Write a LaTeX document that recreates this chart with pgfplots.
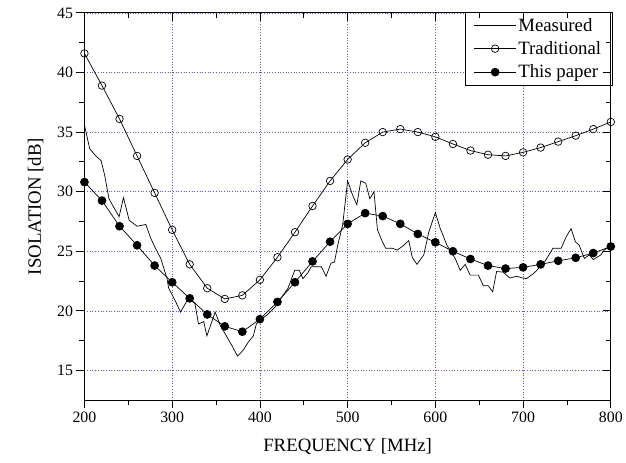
\documentclass[border=0pt]{standalone}
\usepackage{fontspec}
\setmainfont{Liberation Serif}
\usepackage{pgfplots}
\pgfplotsset{compat=1.18}
\definecolor{gridblue}{RGB}{95,95,195}

\begin{document}
\begin{tikzpicture}
\pgfplotsset{
  common/.style={
    width=530bp, height=390bp, scale only axis,
    xmin=200, xmax=800, ymin=12.5, ymax=45,
    xtick={200,300,...,800}, ytick={15,20,...,45},
    minor x tick num=1, minor y tick num=1,
    major tick length=8bp, minor tick length=5bp,
    axis line style={line width=0.9bp},
    every tick/.style={black, line width=0.8bp},
  }
}
\begin{axis}[
    common,
    xtick pos=left, ytick pos=left, tick align=outside,
    grid=major,
    grid style={gridblue, line width=0.7bp, dash pattern=on 0.7bp off 2bp},
    /pgf/number format/assume math mode=true,
    ticklabel style={font=\fontsize{16}{18}\selectfont},
    xlabel={FREQUENCY [MHz]},
    ylabel={ISOLATION [dB]},
    label style={font=\fontsize{19}{22}\selectfont},
    xlabel style={yshift=-9bp},
    ylabel style={yshift=7bp},
    legend style={at={(rel axis cs:1.003,1.003)}, anchor=north east,
      draw=black, line width=0.6bp, font=\fontsize{19}{22}\selectfont,
      inner xsep=9bp, inner ysep=4bp, row sep=5bp},
    legend cell align=left,
    legend image code/.code={\draw[mark repeat=2,mark phase=2,#1]
      plot coordinates {(0bp,0bp) (21bp,0bp) (42bp,0bp)};},
    clip=false,
  ]
  % measured
  \addplot[black, line width=0.7bp] coordinates {
    (200,35.6) (206,33.6) (213,33.0) (219,32.6) (223,31.4) (228,29.4)
    (239.5,27.9) (244.5,29.5) (251,27.6) (260,27.1) (270,27.25) (275.5,26.1)
    (281,25.25) (287,24.4) (294,22.75) (296,21.9) (303.8,20.8) (309.5,19.9)
    (319,21.1) (326,20.6) (330,18.9) (336,19.1) (339.6,17.9) (349,19.9)
    (354.7,18.8) (368,17.1) (374.5,16.2) (381,16.7) (387,17.4) (392.5,17.9)
    (396,18.9) (400,19.2) (409,19.7) (417,20.3) (424.5,21.1) (432,21.9)
    (439.7,23.4) (445,23.4) (449,22.7) (454.7,23.2) (458.5,23.7) (470,23.7)
    (475.4,22.9) (481,24.0) (485,24.1) (488.7,25.5) (494.3,27.2) (500,30.9)
    (505.7,29.7) (510.5,28.9) (515,30.9) (520.7,30.7) (525.3,29.4) (530,30.0)
    (534,26.8) (539.6,25.8) (543.4,25.25) (551,25.25) (556.6,25.1) (564,25.5)
    (569.7,25.9) (573.6,24.5) (579,23.9) (586.8,24.7) (592.5,26.6) (600,28.25)
    (605.6,26.9) (613.2,25.5) (622.6,24.4) (628.3,23.4) (634,23.9) (639.6,23.0)
    (649,23.0) (654.7,22.1) (660.3,22.1) (665.3,21.6) (669.8,23.3) (677.4,23.25)
    (684.9,22.75) (692.5,22.9) (700,22.75) (703.8,22.7) (713,23.2) (724.5,24.1)
    (734,25.25) (743.4,25.25) (749,26.2) (754.7,26.9) (759.6,25.8) (764,25.5)
    (769.8,24.4) (775.5,24.7) (780,24.3) (788.7,24.7) (792.5,25.1) (800,25.5)
  };
  \addlegendentry{Measured}
  % traditional
  \addplot[black, line width=0.7bp, mark=o, mark size=3.8bp,
    mark options={fill=white, line width=0.7bp}] coordinates {
    (200,41.6) (220,38.9) (240,36.1) (260,33.0) (280,29.9) (300,26.8)
    (320,23.9) (340,21.9) (360,21.0) (380,21.3) (400,22.6) (420,24.5)
    (440,26.6) (460,28.8) (480,30.9) (500,32.7) (520,34.1) (540,35.0)
    (560,35.25) (580,35.0) (600,34.6) (620,34.0) (640,33.45) (660,33.1)
    (680,33.0) (700,33.3) (720,33.7) (740,34.2) (760,34.7) (780,35.25)
    (800,35.85)
  };
  \addlegendentry{Traditional}
  % this paper
  \addplot[black, line width=0.7bp, mark=*, mark size=4bp] coordinates {
    (200,30.8) (220,29.25) (240,27.1) (260,25.5) (280,23.8) (300,22.4)
    (320,21.05) (340,19.7) (360,18.7) (380,18.25) (400,19.3) (420,20.75)
    (440,22.4) (460,24.15) (480,25.8) (500,27.3) (520,28.2) (540,27.95)
    (560,27.3) (580,26.45) (600,25.75) (620,25.0) (640,24.35) (660,23.8)
    (680,23.55) (700,23.65) (720,23.9) (740,24.2) (760,24.45) (780,24.85)
    (800,25.4)
  };
  \addlegendentry{This paper}
  \path (rel axis cs:-0.1604,-0.1615) rectangle (rel axis cs:1.0208,1.0333);
\end{axis}
\begin{axis}[
    common,
    xtick pos=right, ytick pos=right, tick align=inside,
    xticklabels={}, yticklabels={},
  ]
\end{axis}
\end{tikzpicture}
\end{document}
